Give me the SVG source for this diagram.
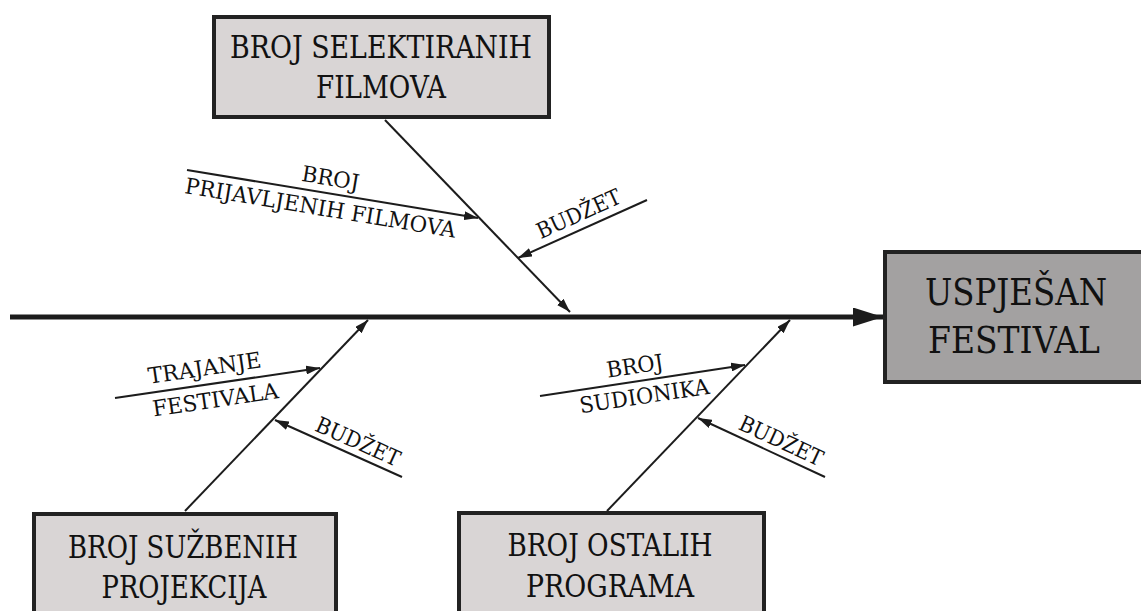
<svg xmlns="http://www.w3.org/2000/svg" width="1141" height="611" viewBox="0 0 1141 611">
<defs>
<style>
.box{fill:#d9d5d5;stroke:#222;stroke-width:4}
.main{fill:#a3a1a1;stroke:#222;stroke-width:4}
.t{font-family:'DejaVu Serif','Liberation Serif',serif;fill:#111;text-anchor:middle}
.big{font-size:31px}
.huge{font-size:38px}
.sm{font-size:22px}
.ln{stroke:#1c1c1c;stroke-width:2;fill:none}
</style>
<marker id="ah" viewBox="0 0 14 9" refX="14" refY="4.5" markerWidth="14" markerHeight="9" markerUnits="userSpaceOnUse" orient="auto">
<path d="M0,0 L14,4.5 L0,9 Z" fill="#1c1c1c"/>
</marker>
<marker id="ahBig" viewBox="0 0 30 19" refX="30" refY="9.5" markerWidth="30" markerHeight="19" markerUnits="userSpaceOnUse" orient="auto">
<path d="M0,0 L30,9.5 L0,19 Z" fill="#1c1c1c"/>
</marker>
</defs>
<rect width="1141" height="611" fill="#fff"/>

<g id="connectors">
<line x1="10" y1="317" x2="883" y2="317" stroke="#1c1c1c" stroke-width="5" marker-end="url(#ahBig)"/>
<line class="ln" x1="385" y1="120" x2="570" y2="312" marker-end="url(#ah)"/>
<line class="ln" x1="187" y1="170" x2="478" y2="218" marker-end="url(#ah)"/>
<line class="ln" x1="647" y1="200" x2="518" y2="258" marker-end="url(#ah)"/>
<line class="ln" x1="185" y1="511" x2="368" y2="320" marker-end="url(#ah)"/>
<line class="ln" x1="115" y1="398" x2="320" y2="368" marker-end="url(#ah)"/>
<line class="ln" x1="402" y1="477" x2="275" y2="420" marker-end="url(#ah)"/>
<line class="ln" x1="607" y1="511" x2="790" y2="320" marker-end="url(#ah)"/>
<line class="ln" x1="540" y1="396" x2="745" y2="365" marker-end="url(#ah)"/>
<line class="ln" x1="825" y1="477" x2="698" y2="418" marker-end="url(#ah)"/>
</g>

<g id="labels">
<g transform="translate(325,193) rotate(9.4)">
<text class="t sm" x="3" y="-8" textLength="58" lengthAdjust="spacingAndGlyphs">BROJ</text>
<text class="t sm" x="-2" y="23" textLength="274" lengthAdjust="spacingAndGlyphs">PRIJAVLJENIH FILMOVA</text>
</g>
<g transform="translate(585,228) rotate(-24.2)">
<text class="t sm" x="0" y="-8" textLength="90" lengthAdjust="spacingAndGlyphs">BUDŽET</text>
</g>
<g transform="translate(210,384) rotate(-8.4)">
<text class="t sm" x="-3" y="-9" textLength="114" lengthAdjust="spacingAndGlyphs">TRAJANJE</text>
<text class="t sm" x="3" y="24" textLength="127" lengthAdjust="spacingAndGlyphs">FESTIVALA</text>
</g>
<g transform="translate(352,455) rotate(24.2)">
<text class="t sm" x="0" y="-7" textLength="90" lengthAdjust="spacingAndGlyphs">BUDŽET</text>
</g>
<g transform="translate(640,381) rotate(-8.6)">
<text class="t sm" x="-3" y="-8" textLength="57" lengthAdjust="spacingAndGlyphs">BROJ</text>
<text class="t sm" x="2" y="23" textLength="131" lengthAdjust="spacingAndGlyphs">SUDIONIKA</text>
</g>
<g transform="translate(775,454) rotate(24.9)">
<text class="t sm" x="0" y="-7" textLength="90" lengthAdjust="spacingAndGlyphs">BUDŽET</text>
</g>
</g>

<g id="node-selektiranih">
<rect class="box" x="214" y="17" width="335" height="100"/>
<text class="t big" x="381" y="58" textLength="302" lengthAdjust="spacingAndGlyphs">BROJ SELEKTIRANIH</text>
<text class="t big" x="381" y="98" textLength="130" lengthAdjust="spacingAndGlyphs">FILMOVA</text>
</g>

<g id="node-sluzbenih">
<rect class="box" x="34" y="514" width="302" height="110"/>
<text class="t big" x="183" y="558" textLength="230" lengthAdjust="spacingAndGlyphs">BROJ SUŽBENIH</text>
<text class="t big" x="184" y="598" textLength="165" lengthAdjust="spacingAndGlyphs">PROJEKCIJA</text>
</g>

<g id="node-ostalih">
<rect class="box" x="459" y="513" width="305" height="110"/>
<text class="t big" x="610" y="556" textLength="205" lengthAdjust="spacingAndGlyphs">BROJ OSTALIH</text>
<text class="t big" x="610" y="597" textLength="168" lengthAdjust="spacingAndGlyphs">PROGRAMA</text>
</g>

<g id="node-uspjesan">
<rect class="main" x="885" y="252" width="270" height="130"/>
<text class="t huge" x="1016" y="305" textLength="182" lengthAdjust="spacingAndGlyphs">USPJEŠAN</text>
<text class="t huge" x="1014" y="353" textLength="172" lengthAdjust="spacingAndGlyphs">FESTIVAL</text>
</g>
</svg>
